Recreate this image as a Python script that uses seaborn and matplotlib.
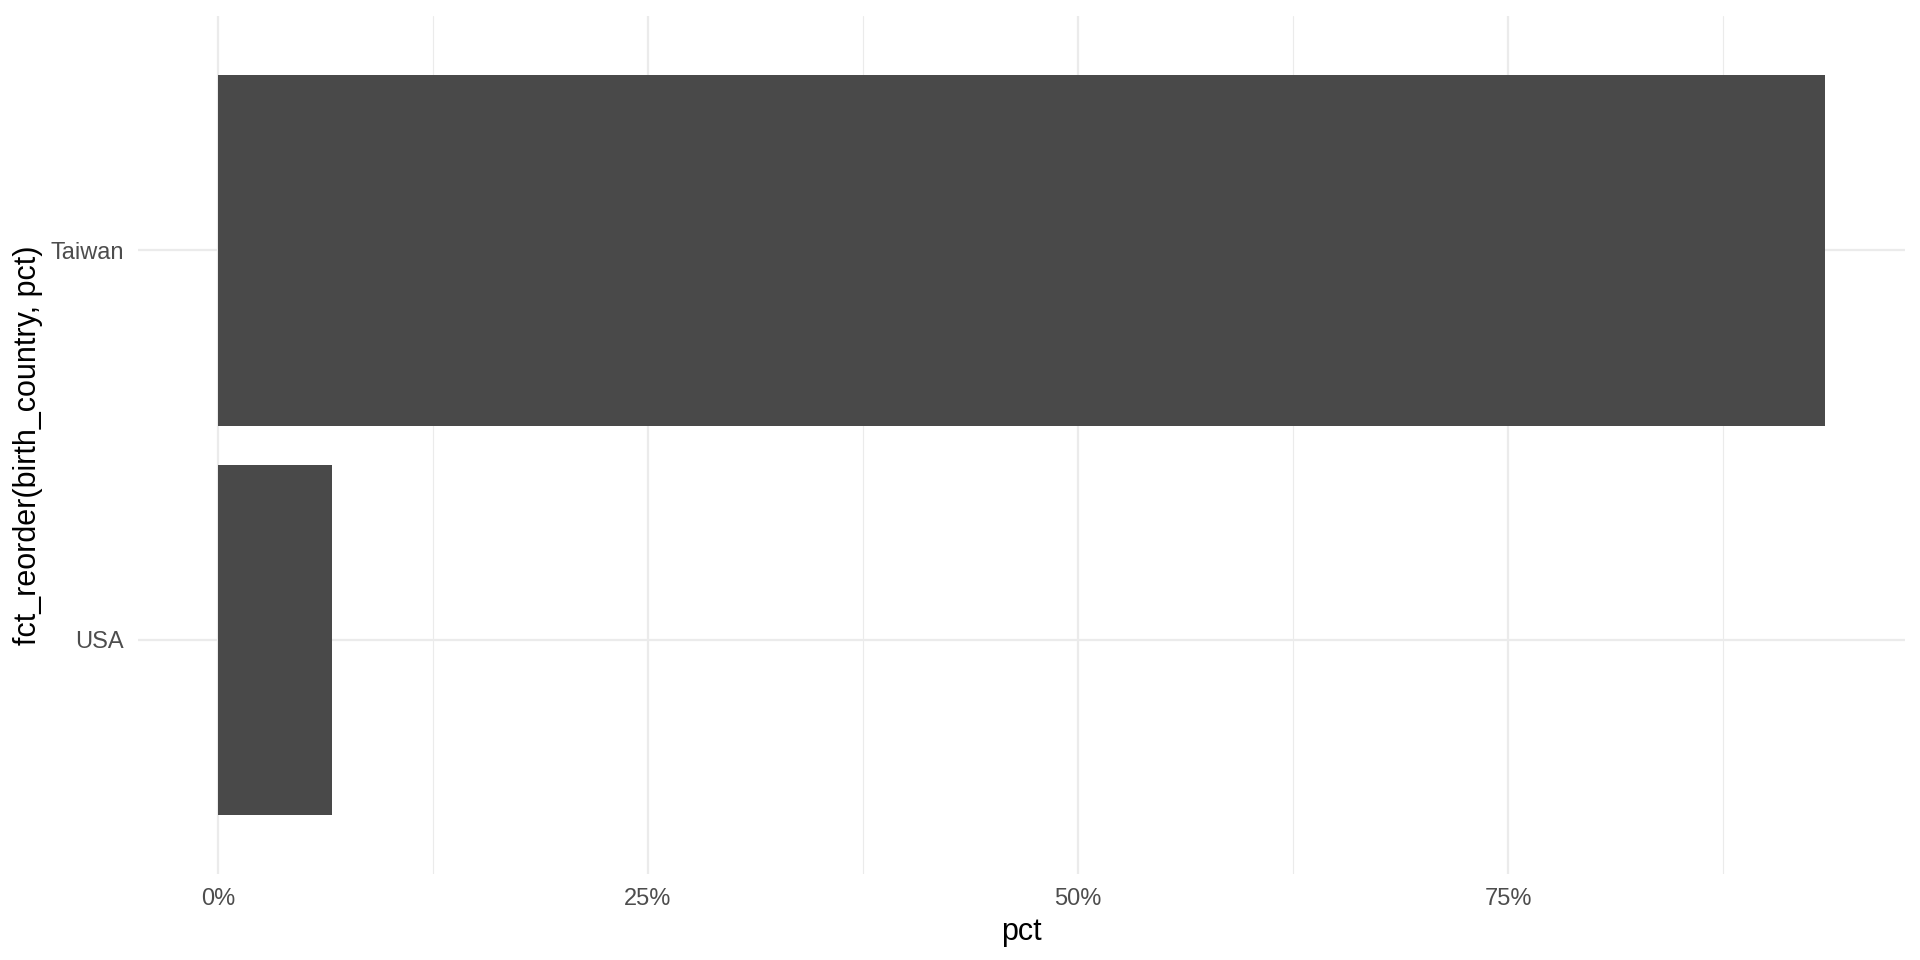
import matplotlib
matplotlib.use("Agg")
import matplotlib.pyplot as plt
import seaborn as sns
import pandas as pd
from matplotlib.ticker import FuncFormatter

countries = ["Taiwan", "USA"]
pct = [93.4, 6.6]
x_ticks = [0, 25, 50, 75]
x_minor = [12.5, 37.5, 62.5, 87.5]

df = pd.DataFrame({"country": countries, "pct": pct})

sns.set_theme(style="white")
plt.rcParams["font.family"] = ["Liberation Sans", "DejaVu Sans"]

fig = plt.figure(figsize=(19.2, 9.6), dpi=100)
ax = fig.add_axes([0.0717, 0.0896, 0.9205, 0.8937])

sns.barplot(data=df, x="pct", y="country", order=countries, orient="h",
            color="#494949", saturation=1, width=0.9, linewidth=0,
            ax=ax, zorder=3)

xmax = max(pct)
ax.set_xlim(-0.05 * xmax, 1.05 * xmax)
ax.set_ylim(len(countries) - 1 + 0.6, -0.6)

ax.set_xticks(x_ticks)
ax.set_xticks(x_minor, minor=True)
ax.xaxis.set_major_formatter(FuncFormatter(lambda v, p: f"{v:.0f}%"))

ax.grid(True, which="major", axis="both", color="#EBEBEB", linewidth=1.6, zorder=0)
ax.grid(True, which="minor", axis="x", color="#EBEBEB", linewidth=0.8, zorder=0)
ax.set_axisbelow(True)

for s in ax.spines.values():
    s.set_visible(False)

ax.tick_params(axis="x", which="both", length=0, pad=10, labelsize=17, labelcolor="#4D4D4D")
ax.tick_params(axis="y", which="both", length=0, pad=10, labelsize=17, labelcolor="#4D4D4D")

ax.set_xlabel("pct", fontsize=22, color="black", labelpad=5)
ax.set_ylabel("fct_reorder(birth_country, pct)", fontsize=22, color="black", labelpad=5)

fig.savefig("out.png", dpi=100, facecolor="white")
